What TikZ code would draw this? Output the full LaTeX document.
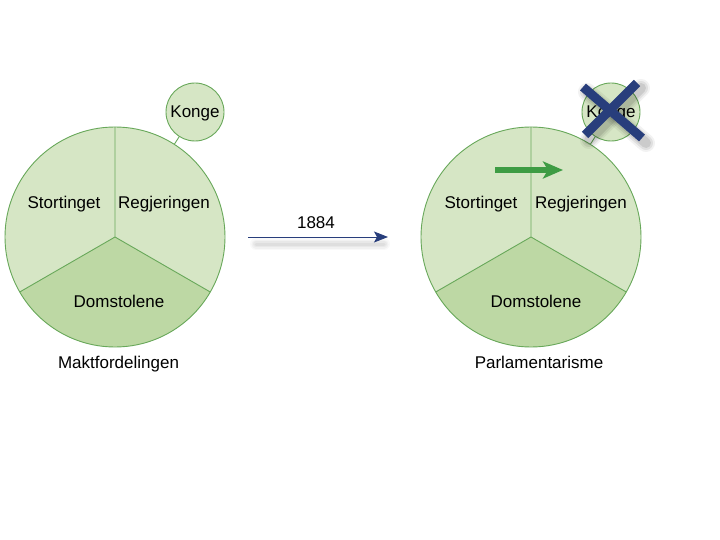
\documentclass[tikz,border=0pt]{standalone}
\usepackage{fontspec}
\setmainfont{Liberation Sans}
\usetikzlibrary{arrows.meta}
\definecolor{lightg}{RGB}{214,230,197}
\definecolor{darkg}{RGB}{189,216,164}
\definecolor{edgeg}{RGB}{104,168,90}
\definecolor{arrg}{RGB}{62,156,68}
\definecolor{xblue}{RGB}{40,62,124}
\begin{document}
\begin{tikzpicture}[x=1pt,y=-1pt,
  lbl/.style={font=\fontsize{17}{20}\selectfont, text=black, inner sep=0pt, anchor=base},
  bigc/.style={circle, draw=edgeg, line width=0.9pt, minimum size=220pt, inner sep=0pt},
  kongec/.style={circle, draw=edgeg, fill=lightg, line width=0.9pt, minimum size=58pt, inner sep=0pt},
  divline/.style={draw=edgeg, line width=0.9pt}
]
\useasboundingbox[fill=white] (0,0) rectangle (720,540);

% ---------- left diagram ----------
\begin{scope}[shift={(115,237)}]
  \fill[lightg] (0,0) circle (110);
  \fill[darkg] (0,0) -- (30:110) arc (30:150:110) -- cycle;
  \node[bigc] (bigL) at (0,0) {};
  \coordinate (cL) at (0,0);
  \draw[divline] (cL) -- (270:110) (cL) -- (30:110) (cL) -- (150:110);
  \node[kongec] (kongeL) at (80,-125) {};
  \draw[divline] (bigL) -- (kongeL);
  \node[lbl] (kL) at (80,-119) {Konge};
  \node[lbl] (sL) at (-51,-28) {Stortinget};
  \node[lbl] (rL) at (49,-28) {Regjeringen};
  \node[lbl] (dL) at (4,70) {Domstolene};
  \node[lbl] (mL) at (3.5,131) {Maktfordelingen};
\end{scope}

% ---------- arrow 1884 ----------
\coordinate (a1) at (248,237);
\coordinate (a2) at (388,237);
\foreach \o/\w in {0.025/12,0.03/9,0.035/6,0.04/3}{
  \draw[black, opacity=\o, line width=\w, line cap=round] (256,244) -- (384,244);
}
\draw[xblue, line width=0.9pt, -{Stealth[length=14pt,width=11pt,inset=3pt]}] (a1) -- (a2);
\node[lbl] (year) at (316,229) {1884};

% ---------- right diagram ----------
\begin{scope}[shift={(531,237)}]
  \fill[lightg] (0,0) circle (110);
  \fill[darkg] (0,0) -- (30:110) arc (30:150:110) -- cycle;
  \node[bigc] (bigR) at (0,0) {};
  \coordinate (cR) at (0,0);
  \draw[divline] (cR) -- (270:110) (cR) -- (30:110) (cR) -- (150:110);
  \node[kongec] (kongeR) at (80,-125) {};
  \draw[divline] (bigR) -- (kongeR);
  \node[lbl] (kR) at (80,-119) {Konge};
  \node[lbl] (sR) at (-50,-28) {Stortinget};
  \node[lbl] (rR) at (50,-28) {Regjeringen};
  \node[lbl] (dR) at (5,70) {Domstolene};
  \node[lbl] (pR) at (8,131) {Parlamentarisme};
  % green arrow
  \coordinate (g1) at (-36,-67);
  \coordinate (g2) at (32,-67);
  \draw[arrg, line width=6pt, -{Stealth[length=20pt,width=17pt,inset=5pt]}] (g1) -- (g2);
  % blue cross with shadow
  \coordinate (x1) at (52,-150);
  \coordinate (x2) at (111,-99);
  \coordinate (x3) at (106,-154);
  \coordinate (x4) at (54,-102);
  \foreach \o/\w in {0.05/18,0.07/14,0.09/10}{
    \draw[black, opacity=\o, line width=\w, line cap=round] ([shift={(4,5)}]x1) -- ([shift={(4,5)}]x2);
    \draw[black, opacity=\o, line width=\w, line cap=round] ([shift={(4,5)}]x3) -- ([shift={(4,5)}]x4);
  }
  \draw[xblue, line width=9pt] (x1) -- (x2) (x3) -- (x4);
\end{scope}
\end{tikzpicture}
\end{document}
